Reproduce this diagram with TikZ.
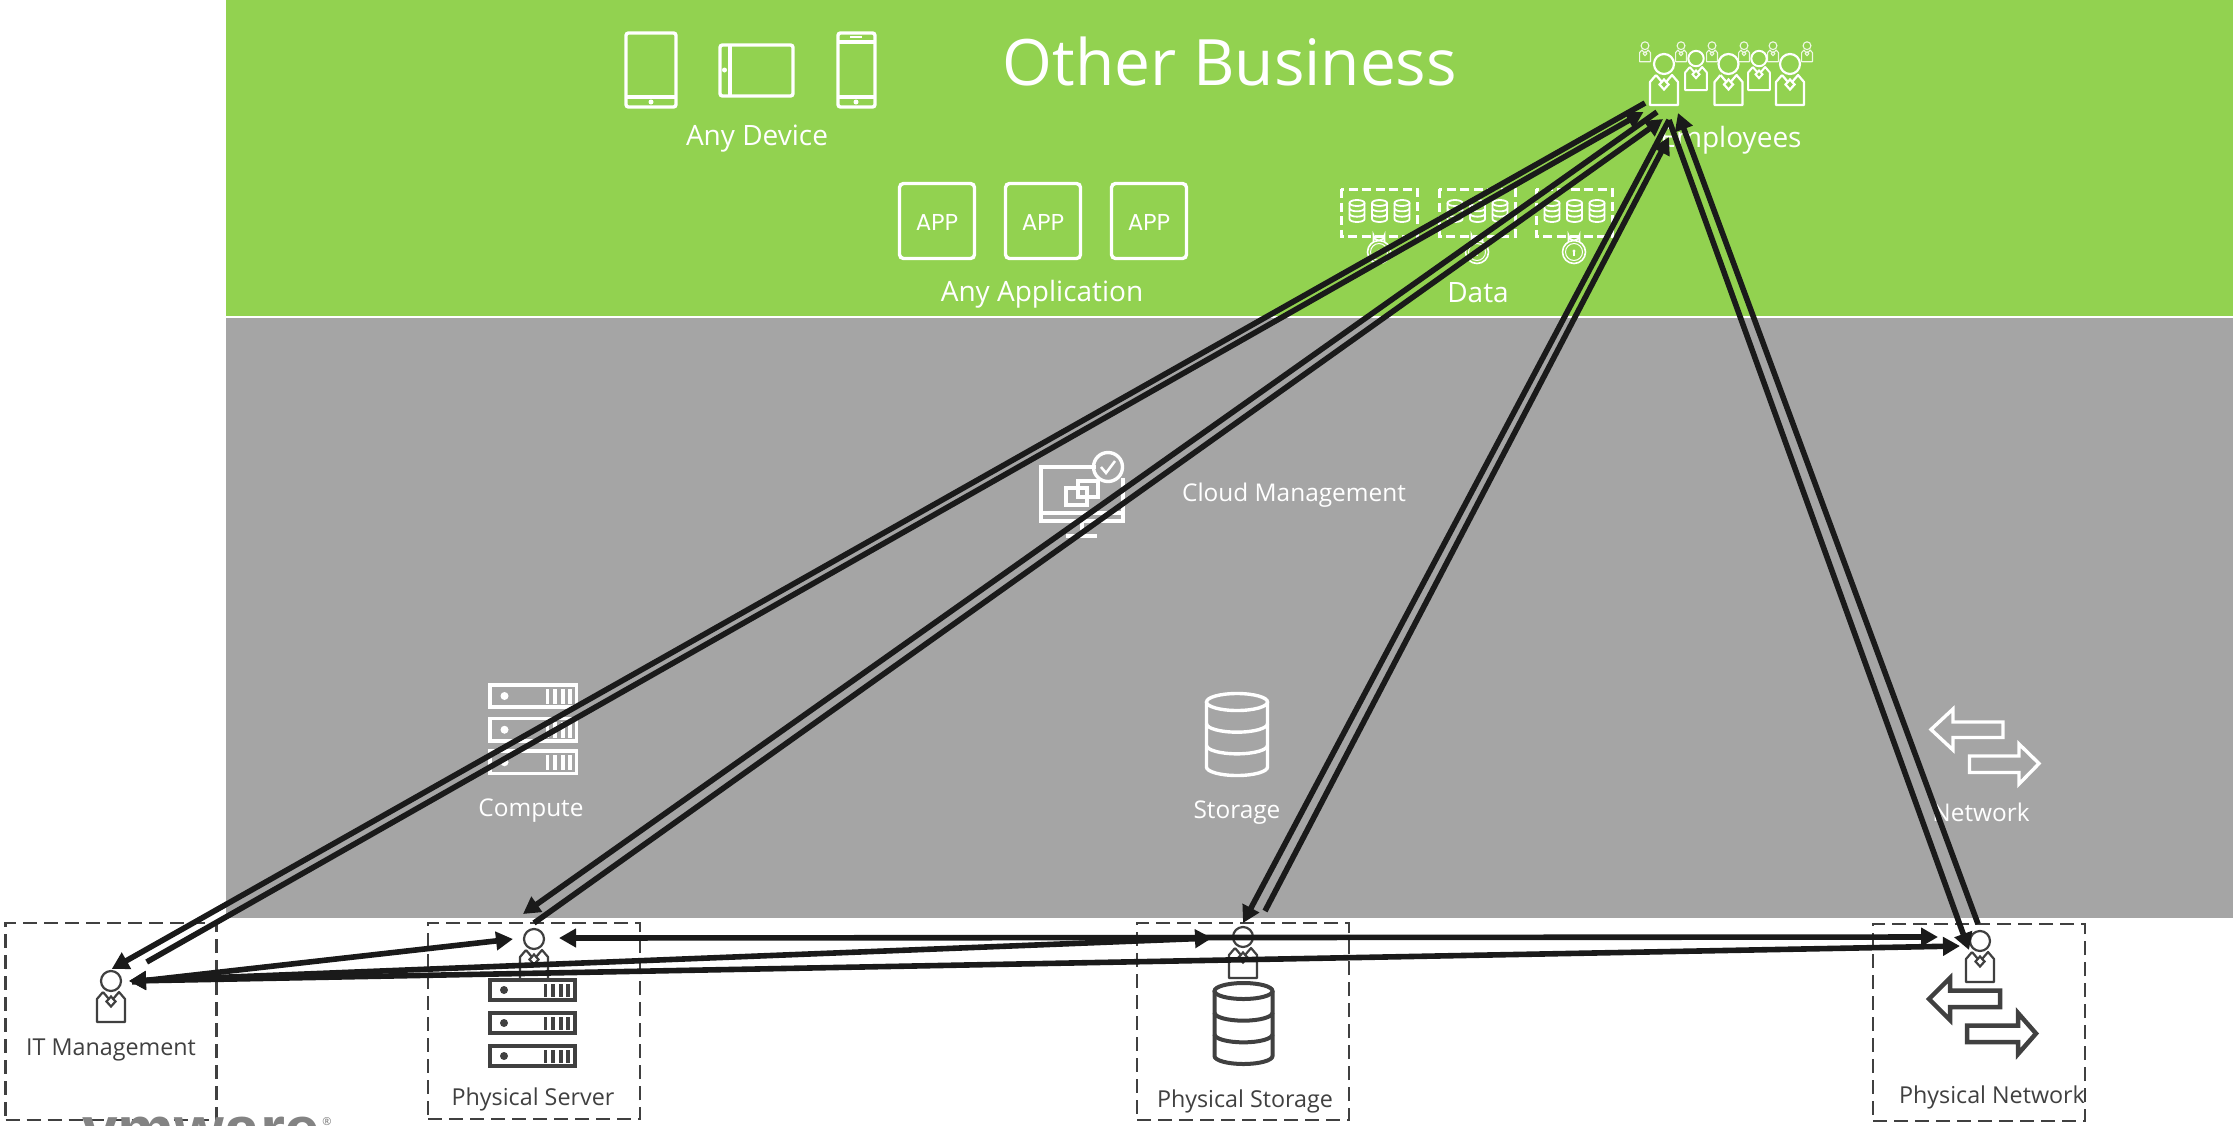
\documentclass[tikz,border=0pt]{standalone}
\usepackage{fontspec}
\setmainfont{Open Sans}
\newfontfamily\appfont{Poppins}
\newfontfamily\logofont{Liberation Sans}
\usetikzlibrary{arrows.meta}
\definecolor{grn}{HTML}{92D250}
\definecolor{gry}{HTML}{A5A5A5}
\definecolor{ink}{HTML}{404040}
\definecolor{arw}{HTML}{1A1A1A}
\tikzset{
  wline/.style={draw=white,line width=3.4pt},
  dline/.style={draw=ink,line width=4pt},
  dbox/.style={draw=ink,line width=2.3pt,dash pattern=on 14pt off 7pt},
  wtext/.style={text=white,font=\fontsize{28}{32}\selectfont,inner sep=0pt},
  wsmall/.style={text=white,font=\fontsize{24.4}{28}\selectfont,inner sep=0pt},
  dtext/.style={text=ink,font=\fontsize{23.3}{28}\selectfont,inner sep=0pt},
  apptext/.style={text=white,font=\appfont\fontsize{23}{26}\selectfont,inner sep=0pt},
  conn/.style={draw=arw,line width=5.6pt,-{Triangle[length=17pt,width=18pt]}},
  conn2/.style={draw=arw,line width=5.6pt,{Triangle[length=17pt,width=18pt]}-{Triangle[length=17pt,width=18pt]}},
}
% person: x, y (top middle of the body), scale, colour, line width
\newcommand{\prsn}[5]{%
  \begin{scope}[shift={(#1,#2)},scale=#3]
    \draw[draw=#4,line width=#5pt] (0,-11) circle[radius=10];
    \draw[draw=#4,line width=#5pt,line join=round] (-8,0)--(-14,7)--(-14,30)--(14,30)--(14,7)--(8,0)--(2.5,6.5);
    \draw[draw=#4,line width=#5pt] (-8,0)--(-2.5,6.5);
    \draw[draw=#4,line width=#5pt] (0,4.5)--(4.5,9.5)--(0,14.5)--(-4.5,9.5)--cycle;
  \end{scope}}
% rack unit: x0,x1,y0,y1, frame style, fill colour
\newcommand{\rackunit}[6]{%
  \draw[#5] (#1,#3) rectangle (#2,#4);
  \fill[#6] ({#1+14.5},{(#3+#4)/2}) circle[radius=4];
  \foreach \bb in {0,1,2,3}{\fill[#6] ({#2-31+\bb*7.6},{#3+3.5}) rectangle ({#2-31+\bb*7.6+3.8},{#4-3.5});}}
% cylinder: cx, ytop, ybot, rx, ry, style
\newcommand{\cyl}[6]{%
  \draw[#6] (#1,{#2+#5}) ellipse[x radius=#4,y radius=#5];
  \draw[#6] ({#1-#4},{#2+#5})--({#1-#4},{#3-#5}) arc[start angle=180,end angle=0,x radius=#4,y radius=#5]--({#1+#4},{#2+#5});
  \draw[#6] ({#1-#4},{#2+#5+(#3-#2-2*#5)/3}) arc[start angle=180,end angle=0,x radius=#4,y radius=#5];
  \draw[#6] ({#1-#4},{#2+#5+2*(#3-#2-2*#5)/3}) arc[start angle=180,end angle=0,x radius=#4,y radius=#5];}
% padlock
\newcommand{\lockic}[2]{%
  \draw[draw=white,line width=1.6pt] (#1,#2) circle[radius=11.5];
  \draw[draw=white,line width=1pt] (#1,#2) circle[radius=8.5];
  \draw[draw=white,line width=1.6pt] ({#1-5.5},{#2-10})--({#1-5.5},{#2-17}) arc[start angle=180,end angle=360,x radius=5.5,y radius=-5.5]--({#1+5.5},{#2-10});
  \fill[white] (#1,{#2-1}) circle[radius=1.6];
  \draw[draw=white,line width=1.2pt] (#1,{#2-1})--(#1,{#2+4});}
\begin{document}
\begin{tikzpicture}[x=1pt,y=-1pt]
\useasboundingbox (0,0) rectangle (2233,1125);
\fill[white] (0,0) rectangle (2233,1125);
\fill[grn] (226,0) rectangle (2233,316);
\fill[gry] (226,318) rectangle (2233,918);

% ---------- devices
\draw[wline,rounded corners=2.5pt] (626,33) rectangle (676,107);
\draw[wline] (626,97)--(676,97);
\fill[white] (651,102) circle[radius=2.5];
\draw[wline,rounded corners=2.5pt] (720,45) rectangle (793,96);
\draw[wline] (730,45)--(730,96);
\fill[white] (724.5,70) circle[radius=2.5];
\draw[wline,rounded corners=2.5pt] (838,33) rectangle (875,107);
\draw[wline] (838,42)--(875,42);
\draw[wline] (838,97)--(875,97);
\draw[draw=white,line width=2pt] (850,37)--(862,37);
\fill[white] (856,102) circle[radius=2.5];
\node[wtext] (lblDevice) at (757,139) {Any Device};

\node[text=white,font=\fontsize{64}{70}\selectfont,inner sep=0pt] (title) at (1230,61) {Other Business};

% ---------- apps
\foreach \xa/\nm in {898/a,1004/b,1110/c}{
  \draw[wline,rounded corners=4pt] (\xa+1.5,183.5) rectangle (\xa+76.5,258.5);
  \node[apptext] (app\nm) at (\xa+39,222) {APP};
}
\node[wtext] (lblApp) at (1042,294) {Any Application};

% ---------- data
\foreach \xd in {1341,1439,1536}{
  \draw[draw=white,line width=3pt,dash pattern=on 9pt off 4.5pt] (\xd,189) rectangle (\xd+76,236);
  \cyl{\xd+16}{200}{222}{7.5}{3}{draw=white,line width=1.8pt}
  \cyl{\xd+38.5}{200}{222}{7.5}{3}{draw=white,line width=1.8pt}
  \cyl{\xd+61}{200}{222}{7.5}{3}{draw=white,line width=1.8pt}
  \lockic{\xd+38}{252}
}
\node[wtext] (lblData) at (1478,293) {Data};

% ---------- employees
\foreach \xs in {1645,1681,1712,1744,1773,1807}{\prsn{\xs}{50}{0.39}{white!85!grn}{1.1}}
\prsn{1696}{67}{0.77}{white}{2}
\prsn{1759}{67}{0.77}{white}{2}
\prsn{1664}{75}{1}{white}{2.2}
\prsn{1728.5}{75}{1}{white}{2.2}
\prsn{1790}{75}{1}{white}{2.2}
\node[wtext] (lblEmp) at (1731,140) {Employees};

% ---------- cloud management
\draw[wline] (1096,467)--(1041,467)--(1041,521)--(1123,521)--(1123,478);
\draw[wline] (1041,513)--(1123,513);
\draw[wline] (1082,521)--(1082,535);
\draw[wline] (1066,536)--(1097,536);
\draw[wline] (1066,488) rectangle (1087,505);
\draw[wline] (1078,481) rectangle (1098,497);
\draw[wline] (1108,467) circle[radius=14.5];
\draw[draw=white,line width=2.5pt] (1101,467)--(1106,473)--(1115,461);
\node[wsmall] (lblCloud) at (1294,495) {Cloud Management};

% ---------- compute
\rackunit{490}{576.5}{685}{707}{wline}{white}
\rackunit{490}{576.5}{718.5}{741}{wline}{white}
\rackunit{490}{576.5}{751}{773.5}{wline}{white}
\node[wsmall] (lblCompute) at (531,811) {Compute};

% ---------- storage
\cyl{1237}{693.5}{775.5}{30.5}{8.5}{wline}
\node[wsmall] (lblStorage) at (1237,813) {Storage};

% ---------- network
\draw[wline,line join=miter] (1931,729.5)--(1953,709)--(1953,722)--(2003,722)--(2003,737.5)--(1953,737.5)--(1953,750)--cycle;
\draw[wline,line join=miter] (2039,763.5)--(2019,744)--(2019,756)--(1969.5,756)--(1969.5,772.5)--(2019,772.5)--(2019,784)--cycle;
\node[wsmall] (lblNetwork) at (1981,812) {Network};

% ---------- lower boxes
\node[dbox,minimum width=211pt,minimum height=197pt,inner sep=0pt] (boxIT) at (111,1021.5) {};
\node[dbox,minimum width=212pt,minimum height=196pt,inner sep=0pt] (boxSrv) at (534,1021) {};
\node[dbox,minimum width=212pt,minimum height=197pt,inner sep=0pt] (boxSto) at (1243,1021.5) {};
\node[dbox,minimum width=212pt,minimum height=197pt,inner sep=0pt] (boxNet) at (1979,1022.5) {};

\node[dtext] (lblIT) at (111,1050) {IT Management};
\node[dtext] (lblSrv) at (533,1099) {Physical Server};
\node[dtext] (lblSto) at (1245,1101) {Physical Storage};
\node[dtext] (lblNet) at (1992,1097) {Physical Network};

\prsn{111}{992}{1}{ink}{2.2}
\prsn{534}{950}{1}{ink}{2.2}
\prsn{1243}{948}{1}{ink}{2.2}
\prsn{1980}{952}{1}{ink}{2.2}

\rackunit{489.5}{574.5}{980}{1000}{dline}{ink}
\rackunit{489.5}{574.5}{1013}{1033}{dline}{ink}
\rackunit{489.5}{574.5}{1046}{1066}{dline}{ink}

\cyl{1243.5}{983}{1064}{29}{8}{draw=ink,line width=4pt}

\draw[draw=ink,line width=4.5pt,line join=miter] (1929,999)--(1950,978)--(1950,990.5)--(2000,990.5)--(2000,1007)--(1950,1007)--(1950,1020)--cycle;
\draw[draw=ink,line width=4.5pt,line join=miter] (2036,1033.5)--(2018,1013)--(2018,1025.5)--(1967,1025.5)--(1967,1042)--(2018,1042)--(2018,1054)--cycle;

% ---------- logo, cut by the lower edge as in the reference
\begin{scope}
  \clip (0,0) rectangle (2233,1125);
  \node[anchor=base west,inner sep=0pt,text=ink!65!white,font=\logofont\bfseries\fontsize{64}{64}\selectfont] (logo) at (82,1151) {vmware};
  \node[anchor=center,inner sep=0pt,text=ink!70!white,font=\fontsize{11}{12}\selectfont] (logoR) at (327,1122) {®};
\end{scope}

% ---------- connector ends
\coordinate (empA) at (1645,103);
\coordinate (empB) at (1643.5,112);
\coordinate (empC) at (1657,112);
\coordinate (empD) at (1663,119);
\coordinate (empE) at (1669,120);
\coordinate (empF) at (1669,137);
\coordinate (empG) at (1678,113);
\coordinate (empH) at (1669,120);
\coordinate (itA) at (111.7,969);
\coordinate (itB) at (146.7,962);
\coordinate (itC) at (129,981);
\coordinate (itD) at (132,982);
\coordinate (srvA) at (523,914);
\coordinate (srvB) at (534,923);
\coordinate (srvC) at (513,939);
\coordinate (srvD) at (559,938);
\coordinate (stoA) at (1243,923);
\coordinate (stoB) at (1265,911);
\coordinate (stoC) at (1212,938);
\coordinate (netA) at (1978,924);
\coordinate (netB) at (1969,950);
\coordinate (netC) at (1938,937);
\coordinate (netD) at (1960,946);

% ---------- connectors
\draw[conn] (empA) -- (itA);
\draw[conn] (itB) -- (empB);
\draw[conn] (empC) -- (srvA);
\draw[conn] (srvB) -- (empD);
\draw[conn] (empE) -- (stoA);
\draw[conn] (stoB) -- (empF);
\draw[conn] (netA) -- (empG);
\draw[conn] (empH) -- (netB);
\draw[conn] (itD) -- (srvC);
\draw[conn2] (itC) -- (stoC);
\draw[conn2] (itC) -- (netD);
\draw[conn2] (srvD) -- (netC);
\end{tikzpicture}
\end{document}
